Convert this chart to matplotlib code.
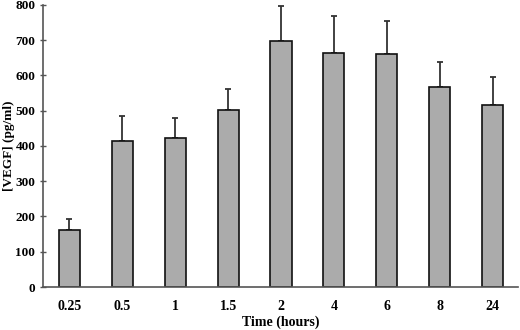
import matplotlib
matplotlib.use("Agg")
import matplotlib.pyplot as plt
import numpy as np

categories = ["0.25", "0.5", "1", "1.5", "2", "4", "6", "8", "24"]
vegf = [162, 413, 423, 502, 698, 663, 661, 567, 517]
err_up = [31, 73, 56, 59, 100, 106, 94, 71, 79]

plt.rcParams['font.family'] = ['Liberation Serif', 'DejaVu Serif']
plt.rcParams['font.weight'] = 'bold'

fig = plt.figure(figsize=(5.2, 3.3), dpi=100)
ax = fig.add_axes([0.0827, 0.1303, 0.9133, 0.8547])

x = np.arange(len(categories))
ax.bar(x, vegf, width=0.40, color='#ababab', edgecolor='#111111', linewidth=1.2, zorder=2)
ax.errorbar(x, vegf, yerr=[np.zeros(len(vegf)), err_up], fmt='none',
            ecolor='#333333', elinewidth=1.3, capsize=2.5, capthick=1.3, zorder=1)

ax.set_xlim(-0.5, 8.48)
ax.set_ylim(0, 800)
ax.set_yticks(range(0, 801, 100))
ax.set_xticks(x)
ax.set_xticklabels(categories)
ax.tick_params(axis='x', length=0, pad=9, labelsize=10)
ax.tick_params(axis='y', direction='inout', length=5, width=1, color='#555555', pad=3, labelsize=9.5)
for lab in ax.get_xticklabels() + ax.get_yticklabels():
    lab.set_fontweight('bold')

for s in ['top', 'right']:
    ax.spines[s].set_visible(False)
for s in ['left', 'bottom']:
    ax.spines[s].set_color('#555555')
    ax.spines[s].set_linewidth(1.2)

ax.set_xlabel("Time (hours)", fontsize=10, fontweight='bold', labelpad=2)
ax.set_ylabel("[VEGF] (pg/ml)", fontsize=9.5, fontweight='bold', va='center')
ax.yaxis.set_label_coords(-0.072, 0.5)

fig.savefig("out.png", dpi=100)
